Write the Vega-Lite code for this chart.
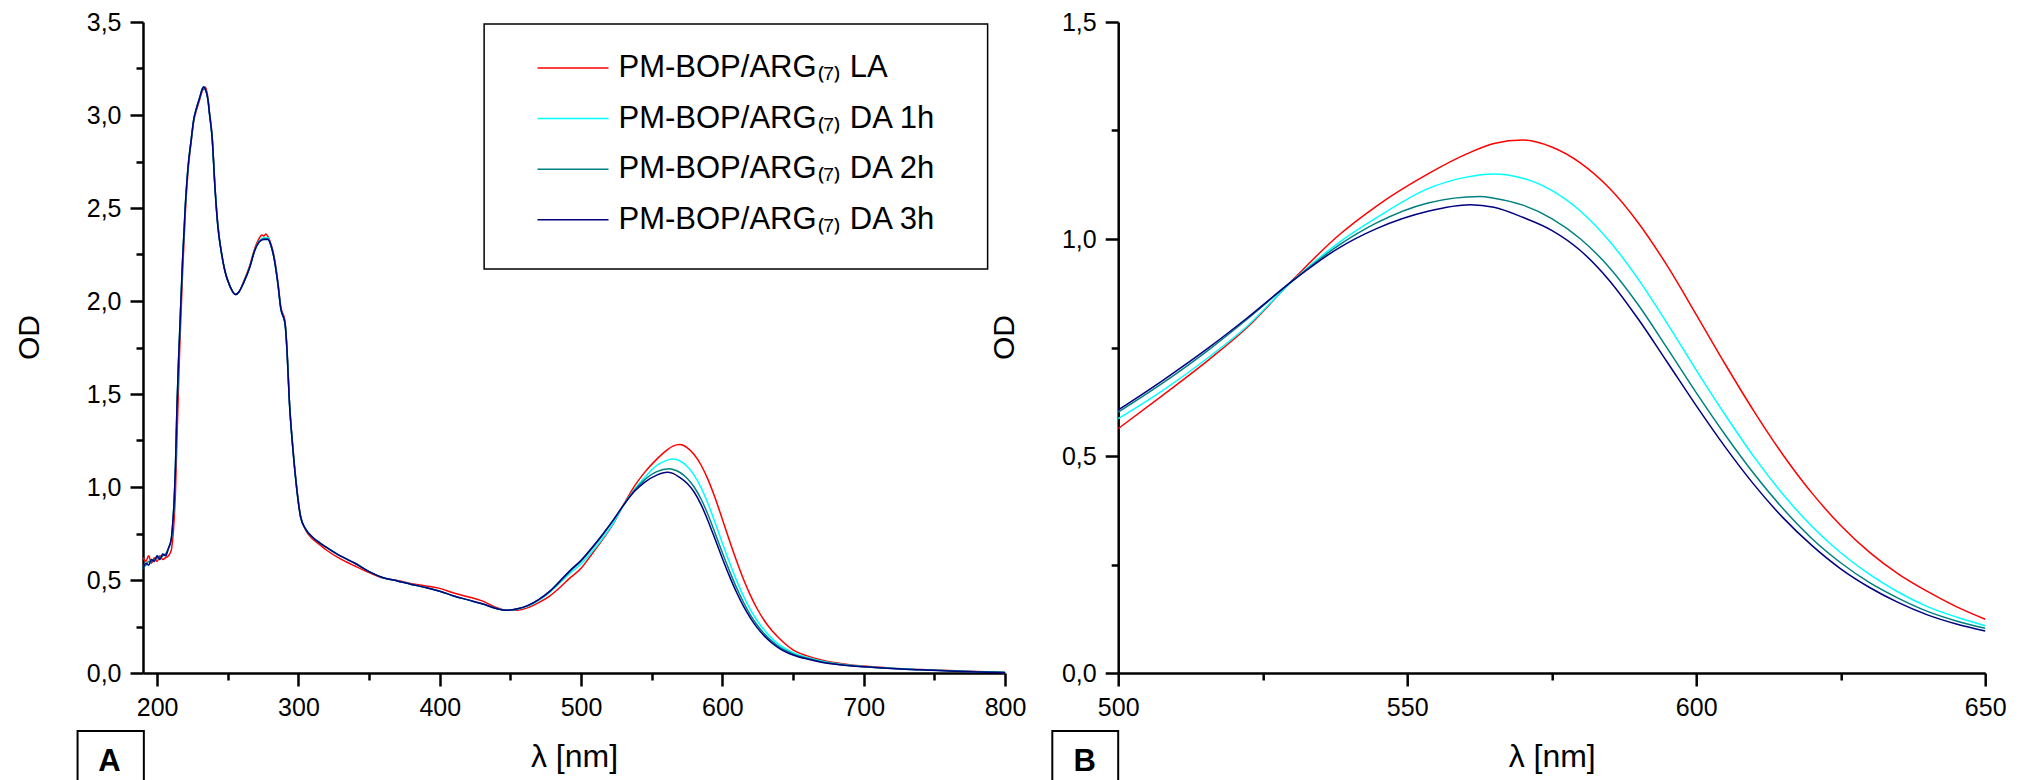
{
  "$schema": "https://vega.github.io/schema/vega-lite/v6.json",
  "padding": {"left": 14, "top": 10, "right": 0, "bottom": 0},
  "config": {
    "locale": {"number": {"decimal": ",", "thousands": ".", "grouping": [3], "currency": ["", ""]}},
    "view": {"stroke": null},
    "font": "Liberation Sans",
    "axis": {"domainColor": "black", "domainWidth": 2.5, "tickColor": "black", "tickWidth": 2.5, "labelColor": "black", "labelFont": "Liberation Sans", "labelFontSize": 25, "labelPadding": 9, "titleColor": "black", "titleFont": "Liberation Sans", "titleFontWeight": "normal", "grid": false, "labelFlush": false, "labelOverlap": false}
  },
  "datasets": {
    "spec": [
{"s":"LA","x":190,"y":0.62},{"s":"LA","x":192,"y":0.60},{"s":"LA","x":194,"y":0.63},{"s":"LA","x":196,"y":0.59},{"s":"LA","x":198,"y":0.62},{"s":"LA","x":200,"y":0.60},{"s":"LA","x":202,"y":0.63},{"s":"LA","x":204,"y":0.61},{"s":"LA","x":206,"y":0.62},{"s":"LA","x":208,"y":0.63},{"s":"LA","x":210,"y":0.66},{"s":"LA","x":211,"y":0.72},{"s":"LA","x":212,"y":0.82},{"s":"LA","x":213,"y":0.98},{"s":"LA","x":214,"y":1.25},{"s":"LA","x":215,"y":1.50},{"s":"LA","x":216,"y":1.75},{"s":"LA","x":218,"y":2.15},{"s":"LA","x":220,"y":2.48},{"s":"LA","x":222,"y":2.71},{"s":"LA","x":224,"y":2.85},{"s":"LA","x":226,"y":2.97},{"s":"LA","x":228,"y":3.03},{"s":"LA","x":230,"y":3.08},{"s":"LA","x":232,"y":3.13},{"s":"LA","x":233,"y":3.14},{"s":"LA","x":234,"y":3.15},{"s":"LA","x":236,"y":3.09},{"s":"LA","x":237,"y":3.02},{"s":"LA","x":239,"y":2.88},{"s":"LA","x":241,"y":2.61},{"s":"LA","x":243,"y":2.41},{"s":"LA","x":245.5,"y":2.26},{"s":"LA","x":248,"y":2.16},{"s":"LA","x":251.5,"y":2.08},{"s":"LA","x":255.5,"y":2.035},{"s":"LA","x":258,"y":2.05},{"s":"LA","x":261,"y":2.10},{"s":"LA","x":265.5,"y":2.19},{"s":"LA","x":269,"y":2.28},{"s":"LA","x":272.5,"y":2.34},{"s":"LA","x":274,"y":2.355},{"s":"LA","x":275.5,"y":2.35},{"s":"LA","x":277,"y":2.36},{"s":"LA","x":278.5,"y":2.345},{"s":"LA","x":280,"y":2.32},{"s":"LA","x":283,"y":2.23},{"s":"LA","x":285.5,"y":2.10},{"s":"LA","x":287.5,"y":1.97},{"s":"LA","x":290.5,"y":1.89},{"s":"LA","x":292,"y":1.73},{"s":"LA","x":293.5,"y":1.48},{"s":"LA","x":296,"y":1.22},{"s":"LA","x":298.5,"y":1.02},{"s":"LA","x":301.5,"y":0.845},{"s":"LA","x":305,"y":0.77},{"s":"LA","x":310,"y":0.72},{"s":"LA","x":315,"y":0.69},{"s":"LA","x":320,"y":0.66},{"s":"LA","x":330,"y":0.612},{"s":"LA","x":340,"y":0.575},{"s":"LA","x":350,"y":0.54},{"s":"LA","x":360,"y":0.51},{"s":"LA","x":370,"y":0.497},{"s":"LA","x":380,"y":0.48},{"s":"LA","x":390,"y":0.468},{"s":"LA","x":400,"y":0.455},{"s":"LA","x":410,"y":0.43},{"s":"LA","x":420,"y":0.41},{"s":"LA","x":430,"y":0.388},{"s":"LA","x":440,"y":0.352},{"s":"LA","x":447,"y":0.337},{"s":"LA","x":455,"y":0.338},{"s":"LA","x":462,"y":0.35},{"s":"LA","x":470,"y":0.378},{"s":"LA","x":478,"y":0.415},{"s":"LA","x":485,"y":0.46},{"s":"LA","x":492,"y":0.51},
{"s":"LA","x":500,"y":0.563},{"s":"LA","x":507.8,"y":0.641},{"s":"LA","x":515.6,"y":0.721},{"s":"LA","x":522.3,"y":0.796},{"s":"LA","x":530.2,"y":0.906},{"s":"LA","x":538,"y":1.007},{"s":"LA","x":544.7,"y":1.076},{"s":"LA","x":553.6,"y":1.150},{"s":"LA","x":560.3,"y":1.196},{"s":"LA","x":565,"y":1.220},{"s":"LA","x":570,"y":1.228},{"s":"LA","x":575,"y":1.212},{"s":"LA","x":580,"y":1.175},{"s":"LA","x":585,"y":1.117},{"s":"LA","x":590,"y":1.037},{"s":"LA","x":595,"y":0.938},{"s":"LA","x":600,"y":0.826},{"s":"LA","x":605,"y":0.712},{"s":"LA","x":610,"y":0.603},{"s":"LA","x":615,"y":0.503},{"s":"LA","x":620,"y":0.415},{"s":"LA","x":625,"y":0.340},{"s":"LA","x":630,"y":0.278},{"s":"LA","x":635,"y":0.228},{"s":"LA","x":640,"y":0.188},{"s":"LA","x":645,"y":0.153},{"s":"LA","x":650,"y":0.124},
{"s":"LA","x":660,"y":0.092},{"s":"LA","x":670,"y":0.070},{"s":"LA","x":680,"y":0.055},{"s":"LA","x":690,"y":0.045},{"s":"LA","x":700,"y":0.037},{"s":"LA","x":720,"y":0.026},{"s":"LA","x":740,"y":0.019},{"s":"LA","x":760,"y":0.013},{"s":"LA","x":780,"y":0.008},{"s":"LA","x":800,"y":0.004},

{"s":"DA 1h","x":190,"y":0.56},{"s":"DA 1h","x":192,"y":0.59},{"s":"DA 1h","x":194,"y":0.58},{"s":"DA 1h","x":196,"y":0.61},{"s":"DA 1h","x":198,"y":0.60},{"s":"DA 1h","x":200,"y":0.63},{"s":"DA 1h","x":202,"y":0.61},{"s":"DA 1h","x":204,"y":0.64},{"s":"DA 1h","x":206,"y":0.63},{"s":"DA 1h","x":208,"y":0.67},{"s":"DA 1h","x":210,"y":0.72},{"s":"DA 1h","x":211,"y":0.80},{"s":"DA 1h","x":212,"y":0.92},{"s":"DA 1h","x":213,"y":1.12},{"s":"DA 1h","x":214,"y":1.42},{"s":"DA 1h","x":215,"y":1.65},{"s":"DA 1h","x":216,"y":1.84},{"s":"DA 1h","x":218,"y":2.22},{"s":"DA 1h","x":220,"y":2.52},{"s":"DA 1h","x":222,"y":2.73},{"s":"DA 1h","x":224,"y":2.86},{"s":"DA 1h","x":226,"y":2.98},{"s":"DA 1h","x":228,"y":3.04},{"s":"DA 1h","x":230,"y":3.09},{"s":"DA 1h","x":232,"y":3.14},{"s":"DA 1h","x":233,"y":3.15},{"s":"DA 1h","x":234,"y":3.14},{"s":"DA 1h","x":236,"y":3.08},{"s":"DA 1h","x":237,"y":3.01},{"s":"DA 1h","x":239,"y":2.87},{"s":"DA 1h","x":241,"y":2.60},{"s":"DA 1h","x":243,"y":2.40},{"s":"DA 1h","x":245.5,"y":2.26},{"s":"DA 1h","x":248,"y":2.16},{"s":"DA 1h","x":251.5,"y":2.08},{"s":"DA 1h","x":255.5,"y":2.035},{"s":"DA 1h","x":258,"y":2.05},{"s":"DA 1h","x":261,"y":2.095},{"s":"DA 1h","x":265.5,"y":2.18},{"s":"DA 1h","x":269,"y":2.27},{"s":"DA 1h","x":272.5,"y":2.325},{"s":"DA 1h","x":275.5,"y":2.34},{"s":"DA 1h","x":278.5,"y":2.34},{"s":"DA 1h","x":280,"y":2.31},{"s":"DA 1h","x":283,"y":2.22},{"s":"DA 1h","x":285.5,"y":2.09},{"s":"DA 1h","x":287.5,"y":1.96},{"s":"DA 1h","x":290.5,"y":1.88},{"s":"DA 1h","x":292,"y":1.72},{"s":"DA 1h","x":293.5,"y":1.47},{"s":"DA 1h","x":296,"y":1.21},{"s":"DA 1h","x":298.5,"y":1.01},{"s":"DA 1h","x":301.5,"y":0.84},{"s":"DA 1h","x":305,"y":0.775},{"s":"DA 1h","x":310,"y":0.73},{"s":"DA 1h","x":315,"y":0.70},{"s":"DA 1h","x":320,"y":0.675},{"s":"DA 1h","x":330,"y":0.628},{"s":"DA 1h","x":340,"y":0.59},{"s":"DA 1h","x":350,"y":0.545},{"s":"DA 1h","x":360,"y":0.512},{"s":"DA 1h","x":370,"y":0.495},{"s":"DA 1h","x":380,"y":0.476},{"s":"DA 1h","x":390,"y":0.46},{"s":"DA 1h","x":400,"y":0.44},{"s":"DA 1h","x":410,"y":0.414},{"s":"DA 1h","x":420,"y":0.393},{"s":"DA 1h","x":430,"y":0.372},{"s":"DA 1h","x":440,"y":0.347},{"s":"DA 1h","x":447,"y":0.337},{"s":"DA 1h","x":455,"y":0.343},{"s":"DA 1h","x":462,"y":0.358},{"s":"DA 1h","x":470,"y":0.39},{"s":"DA 1h","x":478,"y":0.435},{"s":"DA 1h","x":485,"y":0.485},{"s":"DA 1h","x":492,"y":0.535},
{"s":"DA 1h","x":500,"y":0.586},{"s":"DA 1h","x":507.8,"y":0.652},{"s":"DA 1h","x":515.6,"y":0.727},{"s":"DA 1h","x":522.3,"y":0.799},{"s":"DA 1h","x":530.2,"y":0.904},{"s":"DA 1h","x":538,"y":0.990},{"s":"DA 1h","x":544.7,"y":1.049},{"s":"DA 1h","x":553.6,"y":1.116},{"s":"DA 1h","x":560,"y":1.142},{"s":"DA 1h","x":565,"y":1.150},{"s":"DA 1h","x":570,"y":1.140},{"s":"DA 1h","x":575,"y":1.112},{"s":"DA 1h","x":580,"y":1.064},{"s":"DA 1h","x":585,"y":0.995},{"s":"DA 1h","x":590,"y":0.907},{"s":"DA 1h","x":595,"y":0.805},{"s":"DA 1h","x":600,"y":0.698},{"s":"DA 1h","x":605,"y":0.595},{"s":"DA 1h","x":610,"y":0.498},{"s":"DA 1h","x":615,"y":0.412},{"s":"DA 1h","x":620,"y":0.338},{"s":"DA 1h","x":625,"y":0.277},{"s":"DA 1h","x":630,"y":0.227},{"s":"DA 1h","x":635,"y":0.186},{"s":"DA 1h","x":640,"y":0.153},{"s":"DA 1h","x":645,"y":0.129},{"s":"DA 1h","x":650,"y":0.109},
{"s":"DA 1h","x":660,"y":0.083},{"s":"DA 1h","x":670,"y":0.064},{"s":"DA 1h","x":680,"y":0.051},{"s":"DA 1h","x":690,"y":0.042},{"s":"DA 1h","x":700,"y":0.035},{"s":"DA 1h","x":720,"y":0.025},{"s":"DA 1h","x":740,"y":0.018},{"s":"DA 1h","x":760,"y":0.012},{"s":"DA 1h","x":780,"y":0.007},{"s":"DA 1h","x":800,"y":0.003},

{"s":"DA 2h","x":190,"y":0.57},{"s":"DA 2h","x":192,"y":0.58},{"s":"DA 2h","x":194,"y":0.60},{"s":"DA 2h","x":196,"y":0.60},{"s":"DA 2h","x":198,"y":0.61},{"s":"DA 2h","x":200,"y":0.62},{"s":"DA 2h","x":202,"y":0.62},{"s":"DA 2h","x":204,"y":0.63},{"s":"DA 2h","x":206,"y":0.64},{"s":"DA 2h","x":208,"y":0.67},{"s":"DA 2h","x":210,"y":0.72},{"s":"DA 2h","x":211,"y":0.80},{"s":"DA 2h","x":212,"y":0.92},{"s":"DA 2h","x":213,"y":1.12},{"s":"DA 2h","x":214,"y":1.42},{"s":"DA 2h","x":215,"y":1.65},{"s":"DA 2h","x":216,"y":1.84},{"s":"DA 2h","x":218,"y":2.22},{"s":"DA 2h","x":220,"y":2.52},{"s":"DA 2h","x":222,"y":2.73},{"s":"DA 2h","x":224,"y":2.86},{"s":"DA 2h","x":226,"y":2.98},{"s":"DA 2h","x":228,"y":3.04},{"s":"DA 2h","x":230,"y":3.09},{"s":"DA 2h","x":232,"y":3.14},{"s":"DA 2h","x":233,"y":3.15},{"s":"DA 2h","x":234,"y":3.14},{"s":"DA 2h","x":236,"y":3.08},{"s":"DA 2h","x":237,"y":3.01},{"s":"DA 2h","x":239,"y":2.87},{"s":"DA 2h","x":241,"y":2.60},{"s":"DA 2h","x":243,"y":2.40},{"s":"DA 2h","x":245.5,"y":2.26},{"s":"DA 2h","x":248,"y":2.16},{"s":"DA 2h","x":251.5,"y":2.08},{"s":"DA 2h","x":255.5,"y":2.035},{"s":"DA 2h","x":258,"y":2.05},{"s":"DA 2h","x":261,"y":2.095},{"s":"DA 2h","x":265.5,"y":2.18},{"s":"DA 2h","x":269,"y":2.27},{"s":"DA 2h","x":272.5,"y":2.32},{"s":"DA 2h","x":275.5,"y":2.335},{"s":"DA 2h","x":278.5,"y":2.335},{"s":"DA 2h","x":280,"y":2.31},{"s":"DA 2h","x":283,"y":2.22},{"s":"DA 2h","x":285.5,"y":2.09},{"s":"DA 2h","x":287.5,"y":1.96},{"s":"DA 2h","x":290.5,"y":1.88},{"s":"DA 2h","x":292,"y":1.72},{"s":"DA 2h","x":293.5,"y":1.47},{"s":"DA 2h","x":296,"y":1.21},{"s":"DA 2h","x":298.5,"y":1.01},{"s":"DA 2h","x":301.5,"y":0.84},{"s":"DA 2h","x":305,"y":0.775},{"s":"DA 2h","x":310,"y":0.73},{"s":"DA 2h","x":315,"y":0.70},{"s":"DA 2h","x":320,"y":0.675},{"s":"DA 2h","x":330,"y":0.628},{"s":"DA 2h","x":340,"y":0.59},{"s":"DA 2h","x":350,"y":0.545},{"s":"DA 2h","x":360,"y":0.512},{"s":"DA 2h","x":370,"y":0.495},{"s":"DA 2h","x":380,"y":0.476},{"s":"DA 2h","x":390,"y":0.46},{"s":"DA 2h","x":400,"y":0.44},{"s":"DA 2h","x":410,"y":0.414},{"s":"DA 2h","x":420,"y":0.393},{"s":"DA 2h","x":430,"y":0.372},{"s":"DA 2h","x":440,"y":0.347},{"s":"DA 2h","x":447,"y":0.337},{"s":"DA 2h","x":455,"y":0.345},{"s":"DA 2h","x":462,"y":0.361},{"s":"DA 2h","x":470,"y":0.394},{"s":"DA 2h","x":478,"y":0.44},{"s":"DA 2h","x":485,"y":0.49},{"s":"DA 2h","x":492,"y":0.545},
{"s":"DA 2h","x":500,"y":0.601},{"s":"DA 2h","x":507.8,"y":0.669},{"s":"DA 2h","x":515.6,"y":0.744},{"s":"DA 2h","x":522.3,"y":0.815},{"s":"DA 2h","x":530.2,"y":0.904},{"s":"DA 2h","x":538,"y":0.984},{"s":"DA 2h","x":544.7,"y":1.037},{"s":"DA 2h","x":553.6,"y":1.083},{"s":"DA 2h","x":562.6,"y":1.098},{"s":"DA 2h","x":565,"y":1.094},{"s":"DA 2h","x":570,"y":1.078},{"s":"DA 2h","x":575,"y":1.047},{"s":"DA 2h","x":580,"y":1.000},{"s":"DA 2h","x":585,"y":0.934},{"s":"DA 2h","x":590,"y":0.848},{"s":"DA 2h","x":595,"y":0.748},{"s":"DA 2h","x":600,"y":0.646},{"s":"DA 2h","x":605,"y":0.549},{"s":"DA 2h","x":610,"y":0.459},{"s":"DA 2h","x":615,"y":0.379},{"s":"DA 2h","x":620,"y":0.310},{"s":"DA 2h","x":625,"y":0.254},{"s":"DA 2h","x":630,"y":0.208},{"s":"DA 2h","x":635,"y":0.172},{"s":"DA 2h","x":640,"y":0.142},{"s":"DA 2h","x":645,"y":0.120},{"s":"DA 2h","x":650,"y":0.103},
{"s":"DA 2h","x":660,"y":0.079},{"s":"DA 2h","x":670,"y":0.061},{"s":"DA 2h","x":680,"y":0.049},{"s":"DA 2h","x":690,"y":0.040},{"s":"DA 2h","x":700,"y":0.034},{"s":"DA 2h","x":720,"y":0.024},{"s":"DA 2h","x":740,"y":0.017},{"s":"DA 2h","x":760,"y":0.012},{"s":"DA 2h","x":780,"y":0.007},{"s":"DA 2h","x":800,"y":0.003},

{"s":"DA 3h","x":190,"y":0.56},{"s":"DA 3h","x":192,"y":0.59},{"s":"DA 3h","x":194,"y":0.58},{"s":"DA 3h","x":196,"y":0.61},{"s":"DA 3h","x":198,"y":0.60},{"s":"DA 3h","x":200,"y":0.63},{"s":"DA 3h","x":202,"y":0.61},{"s":"DA 3h","x":204,"y":0.64},{"s":"DA 3h","x":206,"y":0.63},{"s":"DA 3h","x":208,"y":0.67},{"s":"DA 3h","x":210,"y":0.72},{"s":"DA 3h","x":211,"y":0.80},{"s":"DA 3h","x":212,"y":0.92},{"s":"DA 3h","x":213,"y":1.12},{"s":"DA 3h","x":214,"y":1.42},{"s":"DA 3h","x":215,"y":1.65},{"s":"DA 3h","x":216,"y":1.84},{"s":"DA 3h","x":218,"y":2.22},{"s":"DA 3h","x":220,"y":2.52},{"s":"DA 3h","x":222,"y":2.73},{"s":"DA 3h","x":224,"y":2.86},{"s":"DA 3h","x":226,"y":2.98},{"s":"DA 3h","x":228,"y":3.04},{"s":"DA 3h","x":230,"y":3.09},{"s":"DA 3h","x":232,"y":3.14},{"s":"DA 3h","x":233,"y":3.15},{"s":"DA 3h","x":234,"y":3.14},{"s":"DA 3h","x":236,"y":3.08},{"s":"DA 3h","x":237,"y":3.01},{"s":"DA 3h","x":239,"y":2.87},{"s":"DA 3h","x":241,"y":2.60},{"s":"DA 3h","x":243,"y":2.40},{"s":"DA 3h","x":245.5,"y":2.26},{"s":"DA 3h","x":248,"y":2.16},{"s":"DA 3h","x":251.5,"y":2.08},{"s":"DA 3h","x":255.5,"y":2.035},{"s":"DA 3h","x":258,"y":2.05},{"s":"DA 3h","x":261,"y":2.095},{"s":"DA 3h","x":265.5,"y":2.18},{"s":"DA 3h","x":269,"y":2.27},{"s":"DA 3h","x":272.5,"y":2.32},{"s":"DA 3h","x":275.5,"y":2.33},{"s":"DA 3h","x":278.5,"y":2.33},{"s":"DA 3h","x":280,"y":2.31},{"s":"DA 3h","x":283,"y":2.22},{"s":"DA 3h","x":285.5,"y":2.09},{"s":"DA 3h","x":287.5,"y":1.96},{"s":"DA 3h","x":290.5,"y":1.88},{"s":"DA 3h","x":292,"y":1.72},{"s":"DA 3h","x":293.5,"y":1.47},{"s":"DA 3h","x":296,"y":1.21},{"s":"DA 3h","x":298.5,"y":1.01},{"s":"DA 3h","x":301.5,"y":0.84},{"s":"DA 3h","x":305,"y":0.775},{"s":"DA 3h","x":310,"y":0.73},{"s":"DA 3h","x":315,"y":0.70},{"s":"DA 3h","x":320,"y":0.675},{"s":"DA 3h","x":330,"y":0.628},{"s":"DA 3h","x":340,"y":0.59},{"s":"DA 3h","x":350,"y":0.545},{"s":"DA 3h","x":360,"y":0.512},{"s":"DA 3h","x":370,"y":0.495},{"s":"DA 3h","x":380,"y":0.476},{"s":"DA 3h","x":390,"y":0.46},{"s":"DA 3h","x":400,"y":0.44},{"s":"DA 3h","x":410,"y":0.414},{"s":"DA 3h","x":420,"y":0.393},{"s":"DA 3h","x":430,"y":0.372},{"s":"DA 3h","x":440,"y":0.347},{"s":"DA 3h","x":447,"y":0.337},{"s":"DA 3h","x":455,"y":0.345},{"s":"DA 3h","x":462,"y":0.362},{"s":"DA 3h","x":470,"y":0.395},{"s":"DA 3h","x":478,"y":0.44},{"s":"DA 3h","x":485,"y":0.495},{"s":"DA 3h","x":492,"y":0.55},
{"s":"DA 3h","x":500,"y":0.606},{"s":"DA 3h","x":507.8,"y":0.675},{"s":"DA 3h","x":515.6,"y":0.749},{"s":"DA 3h","x":522.3,"y":0.818},{"s":"DA 3h","x":530.2,"y":0.904},{"s":"DA 3h","x":538,"y":0.978},{"s":"DA 3h","x":544.7,"y":1.024},{"s":"DA 3h","x":553.6,"y":1.064},{"s":"DA 3h","x":560.9,"y":1.079},{"s":"DA 3h","x":565,"y":1.073},{"s":"DA 3h","x":570,"y":1.050},{"s":"DA 3h","x":575,"y":1.020},{"s":"DA 3h","x":580,"y":0.973},{"s":"DA 3h","x":585,"y":0.904},{"s":"DA 3h","x":590,"y":0.815},{"s":"DA 3h","x":595,"y":0.716},{"s":"DA 3h","x":600,"y":0.616},{"s":"DA 3h","x":605,"y":0.521},{"s":"DA 3h","x":610,"y":0.434},{"s":"DA 3h","x":615,"y":0.358},{"s":"DA 3h","x":620,"y":0.294},{"s":"DA 3h","x":625,"y":0.240},{"s":"DA 3h","x":630,"y":0.197},{"s":"DA 3h","x":635,"y":0.162},{"s":"DA 3h","x":640,"y":0.134},{"s":"DA 3h","x":645,"y":0.113},{"s":"DA 3h","x":650,"y":0.097},
{"s":"DA 3h","x":660,"y":0.075},{"s":"DA 3h","x":670,"y":0.058},{"s":"DA 3h","x":680,"y":0.047},{"s":"DA 3h","x":690,"y":0.039},{"s":"DA 3h","x":700,"y":0.033},{"s":"DA 3h","x":720,"y":0.024},{"s":"DA 3h","x":740,"y":0.017},{"s":"DA 3h","x":760,"y":0.011},{"s":"DA 3h","x":780,"y":0.006},{"s":"DA 3h","x":800,"y":0.002}
    ]
  },
  "spacing": 113.2,
  "bounds": "flush",
  "resolve": {"scale": {"color": "independent"}, "legend": {"color": "independent"}},
  "hconcat": [
    {
      "width": 862,
      "height": 651,
      "layer": [
        {
          "data": {"name": "spec"},
          "mark": {"type": "line", "strokeWidth": 1.5, "interpolate": "monotone"},
          "encoding": {
            "x": {"field": "x", "type": "quantitative",
              "scale": {"domain": [190, 800], "nice": false, "zero": false},
              "axis": {"title": "λ [nm]", "values": [200,250,300,350,400,450,500,550,600,650,700,750,800], "format": "d",
                "labelExpr": "datum.value % 100 === 0 ? datum.label : ''",
                "tickSize": {"condition": {"test": "datum.value % 100 === 0", "value": 13}, "value": 7},
                "titleFont": "Liberation Sans", "titleFontSize": 32, "titleBaseline": "alphabetic", "titleY": 93.7}},
            "y": {"field": "y", "type": "quantitative",
              "scale": {"domain": [0, 3.5], "nice": false, "zero": false},
              "axis": {"title": "OD", "values": [0,0.25,0.5,0.75,1,1.25,1.5,1.75,2,2.25,2.5,2.75,3,3.25,3.5], "format": ".1f",
                "labelExpr": "datum.value % 0.5 === 0 ? datum.label : ''",
                "tickSize": {"condition": {"test": "datum.value % 0.5 === 0", "value": 13}, "value": 7},
                "titleFontSize": 30, "titleX": -104.5, "titleY": 315, "titleBaseline": "alphabetic"}},
            "color": {"field": "s", "type": "nominal",
              "scale": {"domain": ["LA", "DA 1h", "DA 2h", "DA 3h"], "range": ["#ff0000", "#00ffff", "#008080", "#000080"]},
              "legend": {"orient": "none", "legendX": 414.5, "legendY": 30.5, "title": null, "symbolType": "M-4,0H4", "symbolSize": 315, "symbolStrokeWidth": 1.5, "labelFont": "Liberation Sans", "labelFontSize": 31, "labelColor": "black", "labelOffset": 30, "labelLimit": 700, "rowPadding": 18.6, "padding": 0, "labelExpr": "'PM-BOP/ARG₍₇₎ ' + datum.label"}}
          }
        },
        {
          "data": {"values": [{}]},
          "mark": {"type": "rect", "fillOpacity": 0, "stroke": "black", "strokeWidth": 1.5},
          "encoding": {
            "x": {"datum": 431.4, "type": "quantitative"}, "x2": {"datum": 787.7},
            "y": {"datum": 3.489, "type": "quantitative"}, "y2": {"datum": 2.172}
          }
        },
        {
          "data": {"values": [{}]},
          "mark": {"type": "rect", "fillOpacity": 0, "stroke": "black", "strokeWidth": 2},
          "encoding": {
            "x": {"datum": 143.7, "type": "quantitative"}, "x2": {"datum": 190.6},
            "y": {"datum": -0.312, "type": "quantitative"}, "y2": {"datum": -0.75}
          }
        },
        {
          "data": {"values": [{}]},
          "mark": {"type": "text", "text": "A", "fontWeight": "bold", "fontSize": 31, "font": "Liberation Sans", "baseline": "alphabetic", "align": "center", "color": "black"},
          "encoding": {
            "x": {"datum": 166.3, "type": "quantitative"},
            "y": {"datum": -0.528, "type": "quantitative"}
          }
        }
      ]
    },
    {
      "width": 867,
      "height": 651,
      "layer": [
        {
          "data": {"name": "spec"},
          "transform": [{"filter": "datum.x >= 500 && datum.x <= 650"}],
          "mark": {"type": "line", "strokeWidth": 1.5, "interpolate": "monotone"},
          "encoding": {
            "x": {"field": "x", "type": "quantitative",
              "scale": {"domain": [500, 650], "nice": false, "zero": false},
              "axis": {"title": "λ [nm]", "values": [500,525,550,575,600,625,650], "format": "d",
                "labelExpr": "datum.value % 50 === 0 ? datum.label : ''",
                "tickSize": {"condition": {"test": "datum.value % 50 === 0", "value": 13}, "value": 7},
                "titleFont": "Liberation Sans", "titleFontSize": 32, "titleBaseline": "alphabetic", "titleY": 93.7}},
            "y": {"field": "y", "type": "quantitative",
              "scale": {"domain": [0, 1.5], "nice": false, "zero": false},
              "axis": {"title": "OD", "values": [0,0.25,0.5,0.75,1,1.25,1.5], "format": ".1f",
                "labelExpr": "datum.value % 0.5 === 0 ? datum.label : ''",
                "tickSize": {"condition": {"test": "datum.value % 0.5 === 0", "value": 13}, "value": 7},
                "titleFontSize": 30, "titleX": -104.5, "titleY": 315, "titleBaseline": "alphabetic"}},
            "color": {"field": "s", "type": "nominal",
              "scale": {"domain": ["LA", "DA 1h", "DA 2h", "DA 3h"], "range": ["#ff0000", "#00ffff", "#008080", "#000080"]},
              "legend": null}
          }
        },
        {
          "data": {"values": [{}]},
          "mark": {"type": "rect", "fillOpacity": 0, "stroke": "black", "strokeWidth": 2},
          "encoding": {
            "x": {"datum": 488.6, "type": "quantitative"}, "x2": {"datum": 500},
            "y": {"datum": -0.1336, "type": "quantitative"}, "y2": {"datum": -0.32}
          }
        },
        {
          "data": {"values": [{}]},
          "mark": {"type": "text", "text": "B", "fontWeight": "bold", "fontSize": 31, "font": "Liberation Sans", "baseline": "alphabetic", "align": "center", "color": "black"},
          "encoding": {
            "x": {"datum": 494.2, "type": "quantitative"},
            "y": {"datum": -0.2265, "type": "quantitative"}
          }
        }
      ]
    }
  ]
}
